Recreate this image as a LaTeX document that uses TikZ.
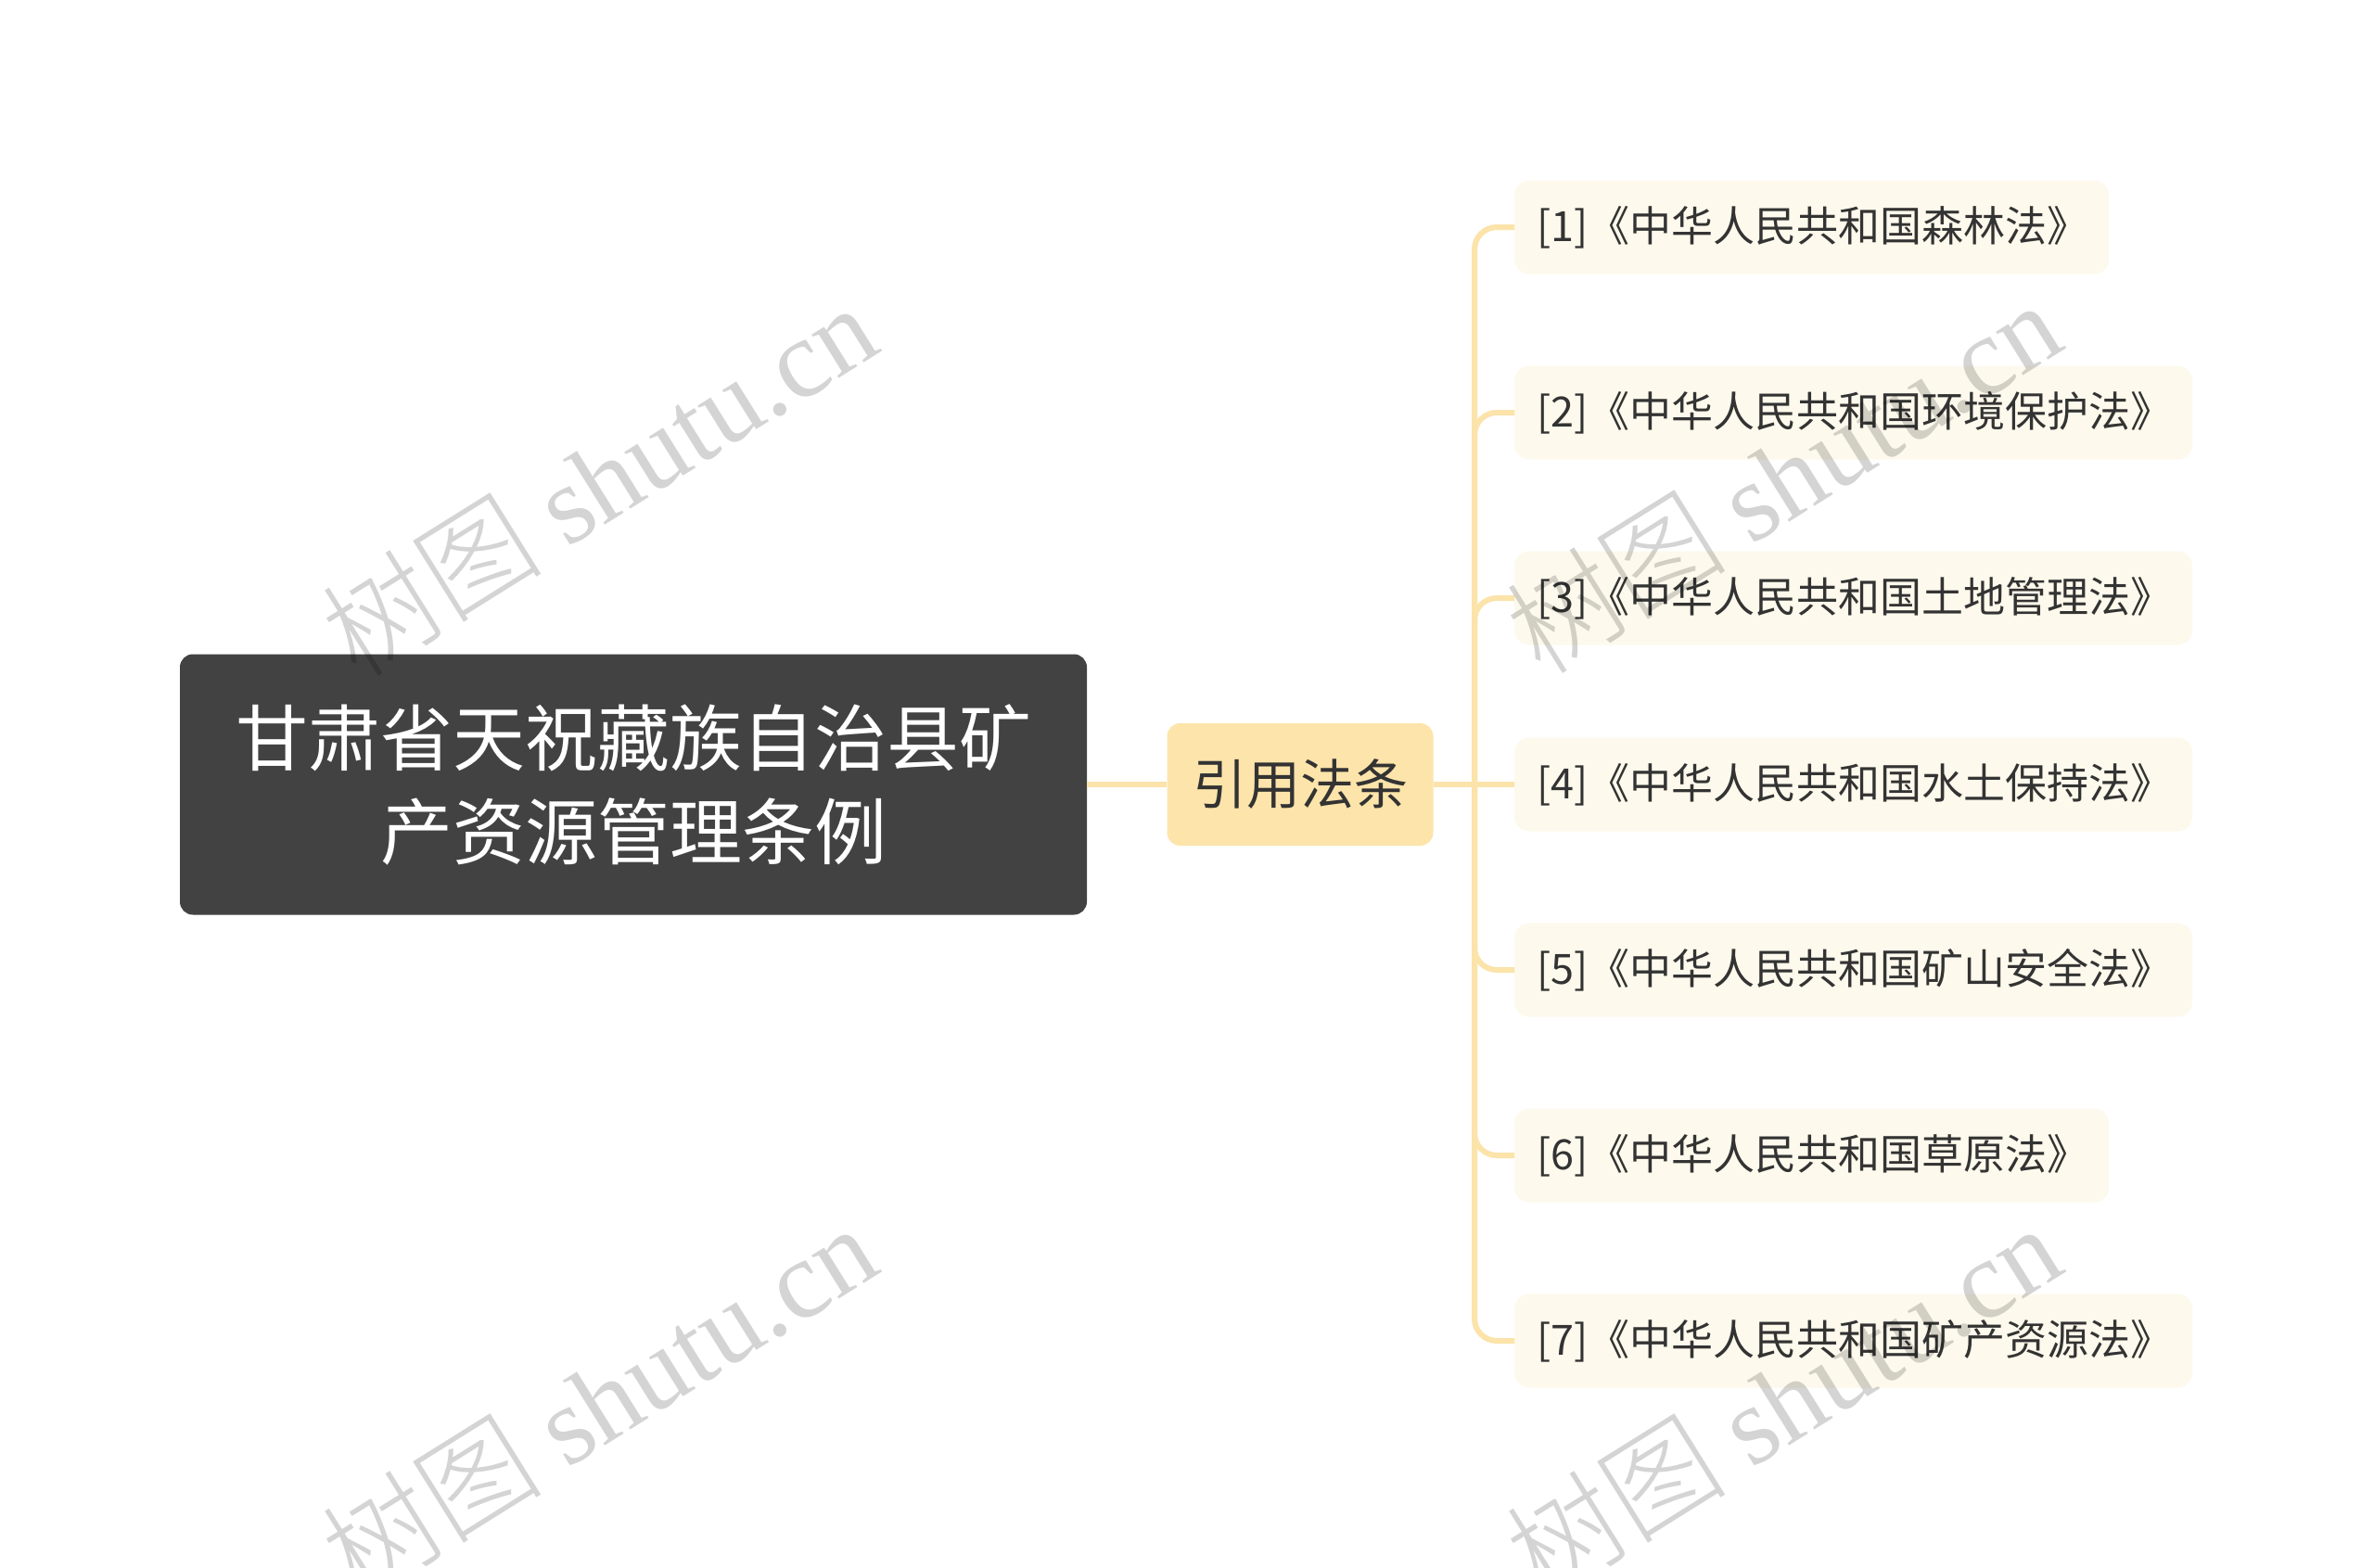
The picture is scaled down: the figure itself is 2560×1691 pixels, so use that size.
\documentclass[tikz,border=0pt]{standalone}
\usepackage{fontspec}
\setmainfont{Noto Sans CJK SC}
\newfontfamily\wmlatin{Liberation Serif}
\newfontfamily\wmcjk{Noto Sans CJK SC Light}
\definecolor{rootgray}{HTML}{424242}
\definecolor{midfill}{HTML}{FDE4AA}
\definecolor{leaffill}{HTML}{FDF9EC}
\definecolor{linecol}{HTML}{FBE3AA}
\definecolor{txt}{HTML}{333333}
\begin{document}
\begin{tikzpicture}[x=1pt,y=-1pt,
  rootbox/.style={fill=rootgray, rounded corners=14, minimum width=978, minimum height=281,
    text=white, font=\fontsize{78}{101}\selectfont, align=center, inner sep=0},
  midbox/.style={fill=midfill, rounded corners=14, minimum width=287, minimum height=132,
    text=txt, font=\fontsize{58}{70}\selectfont, inner sep=0},
  leafbox/.style={fill=leaffill, rounded corners=16, anchor=west, minimum height=101,
    inner xsep=24, inner ysep=0, text=txt, font=\fontsize{45}{54}\selectfont, align=left},
  conn/.style={draw=linecol, line width=6},
  wm/.style={rotate=32, text=black, text opacity=0.17, font=\fontsize{120}{130}\selectfont, inner sep=0}
]
\useasboundingbox (0,0) rectangle (2560,1691);
\fill[white] (0,0) rectangle (2560,1691);

\node[rootbox] (root) at (683,846) {甘肃省天祝藏族自治县矿\\产资源管理条例};
\node[midbox] (mid) at (1402,846) {引用法条};

\node[leafbox, text width=593] (l1) at (1633,245) {[1]《中华人民共和国森林法》};
\node[leafbox, text width=683] (l2) at (1633,445) {[2]《中华人民共和国环境保护法》};
\node[leafbox, text width=683] (l3) at (1633,645) {[3]《中华人民共和国土地管理法》};
\node[leafbox, text width=683] (l4) at (1633,846) {[4]《中华人民共和国水土保持法》};
\node[leafbox, text width=683] (l5) at (1633,1046) {[5]《中华人民共和国矿山安全法》};
\node[leafbox, text width=593] (l6) at (1633,1246) {[6]《中华人民共和国草原法》};
\node[leafbox, text width=683] (l7) at (1633,1446) {[7]《中华人民共和国矿产资源法》};

\coordinate (tr) at (1590,846);
\draw[conn] (root.east) -- (mid.west);
\draw[conn] (mid.east) -- (tr);
\draw[conn, rounded corners=24] (tr) |- (l1.west);
\draw[conn, rounded corners=24] (tr) |- (l2.west);
\draw[conn, rounded corners=24] (tr) |- (l3.west);
\draw[conn] (tr) -- (l4.west);
\draw[conn, rounded corners=24] (tr) |- (l5.west);
\draw[conn, rounded corners=24] (tr) |- (l6.west);
\draw[conn, rounded corners=24] (tr) |- (l7.west);

\node[wm] (w1) at (645,517) {{\wmcjk 树图} {\wmlatin shutu.cn}};
\node[wm] (w2) at (1922,514) {{\wmcjk 树图} {\wmlatin shutu.cn}};
\node[wm] (w3) at (645,1510) {{\wmcjk 树图} {\wmlatin shutu.cn}};
\node[wm] (w4) at (1922,1510) {{\wmcjk 树图} {\wmlatin shutu.cn}};
\end{tikzpicture}
\end{document}
